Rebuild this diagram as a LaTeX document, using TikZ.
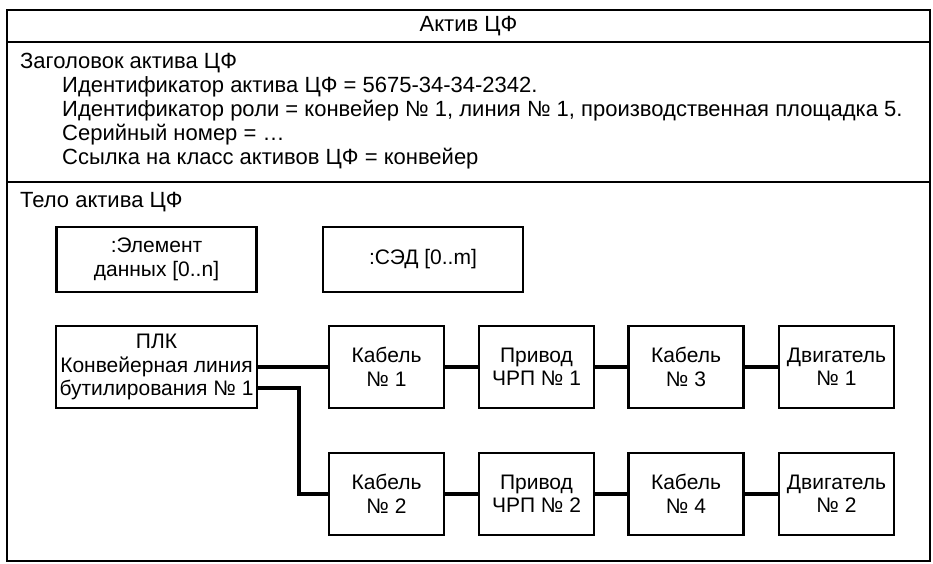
\documentclass[tikz,border=0pt]{standalone}
\usepackage{fontspec}
\setmainfont{Liberation Sans}
\begin{document}
\begin{tikzpicture}[x=1pt,y=-1pt,
  frame/.style={line width=2.8pt},
  blk/.style={draw, line width=2.2pt, minimum width=115pt, minimum height=82pt,
    align=center, inner sep=0pt, font=\fontsize{21}{23.5}\selectfont},
  plc/.style={blk, minimum width=201pt},
  note/.style={blk, minimum width=200pt, minimum height=65pt},
  wire/.style={line width=3.2pt},
  label/.style={anchor=base west, inner sep=0pt, font=\fontsize{22}{24}\selectfont}]
\useasboundingbox (0,0) rectangle (933,563);

% outer frame and its three compartments
\draw[frame] (7,10) rectangle (930,561);
\draw[frame] (7,42) -- (930,42);
\draw[frame] (7,182) -- (930,182);

% title compartment
\node[font=\fontsize{22}{24}\selectfont, inner sep=0pt] (title) at (468.5,26) {Актив ЦФ};

% header compartment
\node[label] (hdr) at (20,68) {Заголовок актива ЦФ};
\node[label] (h1) at (62,92) {Идентификатор актива ЦФ = 5675-34-34-2342.};
\node[label] (h2) at (62,116) {Идентификатор роли = конвейер № 1, линия № 1, производственная площадка 5.};
\node[label] (h3) at (62,140) {Серийный номер = \ldots};
\node[label] (h4) at (62,164) {Ссылка на класс активов ЦФ = конвейер};

% body compartment
\node[label] (body) at (20,207) {Тело актива ЦФ};
\node[note] (elem) at (156.5,259.5) {:Элемент\\данных [0..n]};
\node[note] (sed) at (423,259.5) {:СЭД [0..m]};

\node[plc] (plc) at (156.5,367) {ПЛК\\Конвейерная линия\\бутилирования № 1};

\node[blk] (k1) at (386.5,367) {Кабель\\№ 1};
\node[blk] (p1) at (536.5,367) {Привод\\ЧРП № 1};
\node[blk] (k3) at (686,367) {Кабель\\№ 3};
\node[blk] (m1) at (836.5,367) {Двигатель\\№ 1};

\node[blk] (k2) at (386.5,494) {Кабель\\№ 2};
\node[blk] (p2) at (536.5,494) {Привод\\ЧРП № 2};
\node[blk] (k4) at (686,494) {Кабель\\№ 4};
\node[blk] (m2) at (836.5,494) {Двигатель\\№ 2};

% wiring: first line straight on, second line branches down
\coordinate (tap) at (257.5,388);
\coordinate (bend) at (299,388);
\draw[wire] (plc.east) -- (k1.west);
\draw[wire] (k1) -- (p1);
\draw[wire] (p1) -- (k3);
\draw[wire] (k3) -- (m1);
\draw[wire] (tap) -- (bend) |- (k2.west);
\draw[wire] (k2) -- (p2);
\draw[wire] (p2) -- (k4);
\draw[wire] (k4) -- (m2);
\end{tikzpicture}
\end{document}
